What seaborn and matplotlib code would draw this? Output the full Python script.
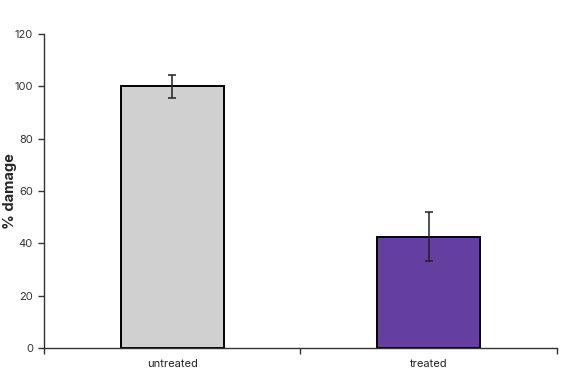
import pandas as pd
import matplotlib.pyplot as plt
import seaborn as sns

sns.set_theme(style="white")
plt.rcParams['font.family'] = ['Inter', 'DejaVu Sans']

# data
groups = ['untreated', 'treated']
damage = [100, 42.5]
err_low = [4.5, 9.3]
err_high = [4.3, 9.6]
colors = ['#D0D0D0', '#653F9F']

df = pd.DataFrame({'group': groups, 'damage': damage})

fig = plt.figure(figsize=(5.68, 3.81), dpi=100)
ax = fig.add_axes([0.0775, 0.0866, 0.903, 0.8242])

sns.barplot(data=df, x='group', y='damage', hue='group', palette=colors,
            legend=False, errorbar=None, width=0.4, edgecolor='black',
            linewidth=1.4, saturation=1, ax=ax)
ax.errorbar(groups, damage, yerr=[err_low, err_high], fmt='none',
            ecolor='#222222', elinewidth=1.1, capsize=3, capthick=1.1)

ax.set_xlim(-0.5, 1.5)
ax.set_ylim(0, 120)
ax.set_yticks(range(0, 121, 20))
ax.set_xlabel('')
ax.set_ylabel('% damage', fontsize=10.5, fontweight='bold')
ax.yaxis.set_label_coords(-0.053, 0.5)

sns.despine(ax=ax)
for s in ['left', 'bottom']:
    ax.spines[s].set_color('#333333')
    ax.spines[s].set_linewidth(1.0)

ax.tick_params(axis='y', which='major', direction='out', length=4, width=1,
               color='#333333', labelsize=8, labelcolor='#333333', left=True, pad=4)
ax.tick_params(axis='x', which='major', length=0, labelsize=8,
               labelcolor='#222222', pad=8)
ax.set_xticks([-0.5, 0.5, 1.5], minor=True)
ax.tick_params(axis='x', which='minor', direction='out', length=4, width=1,
               color='#333333', bottom=True)

fig.savefig('out.png', dpi=100)
